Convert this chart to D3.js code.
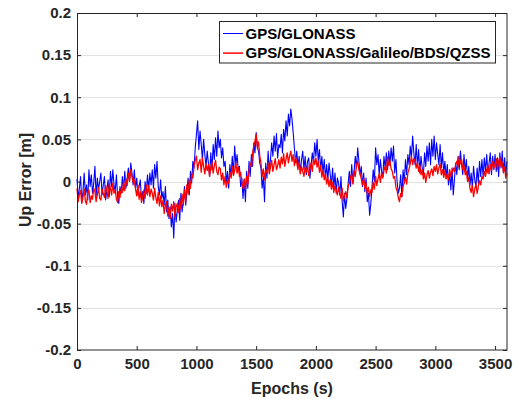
<!DOCTYPE html>
<html>
<head>
<meta charset="utf-8">
<script src="https://cdn.jsdelivr.net/npm/d3@7"></script>
<style>
  body { margin: 0; background: #fff; }
  svg { display: block; font-family: 'Liberation Sans', Arial, sans-serif; font-weight: bold; }
</style>
</head>
<body>
<div id="chart"></div>
<script>
'use strict';

// epochs are sampled every 10 s, values in millimetres
var epochStep = 10;

var seriesNames = ['GPS/GLONASS', 'GPS/GLONASS/Galileo/BDS/QZSS'];
var seriesColors = ['#0000ff', '#ff0000'];

var xTicks = [0, 500, 1000, 1500, 2000, 2500, 3000, 3500];
var yTicks = [-0.2, -0.15, -0.1, -0.05, 0, 0.05, 0.1, 0.15, 0.2];

var gpsGlonassUpMm = [
  3,-20,-8,6,-25,-12,10,-16,-4,-22,
  14,-6,8,-14,-2,18,-18,4,-10,0,
  10,-16,-4,6,-22,-10,2,-18,12,-6,
  14,-4,-12,8,-18,-26,-6,-14,6,-10,
  12,-8,4,16,0,22,10,-4,14,-8,
  4,-16,-6,2,-22,-12,-26,0,-14,8,
  -10,10,-4,14,-8,20,4,24,-6,-16,
  2,-20,-12,-28,-6,-36,-22,-44,-30,-54,
  -38,-67,-26,-48,-34,-22,-46,-14,-36,-24,
  -6,-28,-12,4,-16,12,-2,24,16,40,
  56,72,38,60,44,26,50,32,18,36,
  22,6,34,14,44,26,52,30,60,40,
  50,28,40,18,24,-2,12,-8,20,6,
  30,8,42,20,32,14,18,-6,4,-20,
  2,-24,12,-8,24,6,32,18,46,34,
  58,40,36,22,16,-8,6,-24,22,4,
  36,14,26,46,30,54,36,57,28,44,
  40,56,34,62,48,72,54,80,66,86,
  74,58,40,22,36,18,30,10,26,36,
  14,30,8,24,28,4,20,34,22,46,
  30,50,24,38,14,30,10,26,4,20,
  2,22,8,-4,16,-8,10,-14,4,-2,
  -16,6,-24,-42,-14,-32,-20,-2,12,-6,
  20,-2,12,30,16,40,24,8,18,-6,
  10,-12,4,-24,-14,-40,-26,-6,14,0,
  40,20,32,8,26,12,6,30,16,34,
  14,36,20,40,24,42,10,26,0,-14,
  -8,8,-18,14,-2,26,8,32,20,42,
  28,54,34,20,44,18,38,10,30,16,
  8,34,18,42,24,46,20,50,30,54,
  26,46,32,20,44,16,34,10,24,4,
  20,-4,12,-10,16,-16,2,22,8,30,
  14,36,20,8,32,12,26,2,18,-4,
  10,-8,18,2,-6,16,-2,24,6,26,
  6,28,12,32,10,22,34,8,30,14,
  32,12,28,6,34,16,36,10,28,8,
  24
];

var multiGnssUpMm = [
  -8,-24,-15,-11,-26,-19,-9,-23,-27,-13,
  -10,-25,-17,-21,-8,-12,-24,-16,-7,-20,
  -22,-9,-14,-19,-5,-11,-20,-3,-8,-16,
  -2,-14,-10,-21,-25,-12,-19,-8,-13,0,
  -11,3,-5,10,1,14,6,-1,2,-9,
  -17,-4,-21,-12,-25,-18,-10,-20,-4,-16,
  -5,-18,-9,-14,-22,-8,-19,-26,-13,-29,
  -17,-30,-22,-38,-28,-24,-41,-31,-44,-27,
  -35,-24,-42,-30,-26,-37,-20,-33,-15,-28,
  -10,-24,-4,-15,2,-8,9,4,18,25,
  30,14,22,26,11,28,18,9,21,13,
  20,6,16,23,10,19,25,12,8,17,
  15,2,10,-4,6,-7,1,-2,11,4,
  18,7,13,22,10,17,6,11,-1,-8,
  3,-9,6,-3,12,22,18,34,42,48,
  56,41,47,30,22,6,15,2,14,10,
  22,9,17,25,12,20,27,14,19,26,
  16,29,21,33,18,27,34,22,30,36,
  24,32,19,29,22,14,24,9,18,12,
  6,17,11,19,7,14,22,12,27,20,
  28,17,24,11,19,5,14,2,9,-3,
  5,-6,2,-9,-1,-13,-5,-10,-16,-7,
  -14,-20,-8,-23,-16,-12,-19,-6,-2,5,
  9,-3,13,6,20,24,14,9,3,-4,
  4,-8,-2,-14,-7,-18,-10,-13,-1,-9,
  6,-5,3,9,-1,11,4,13,18,10,
  29,19,24,15,12,4,6,-7,-11,-19,
  -24,-14,-18,-6,-1,5,-3,10,15,21,
  30,20,27,24,16,23,12,19,8,14,
  3,10,-1,8,13,4,11,15,7,18,
  12,20,9,16,21,8,14,5,13,3,
  9,2,14,6,10,16,12,20,24,17,
  30,21,26,14,19,8,12,0,5,-8,
  -13,-5,-18,-9,-3,-14,-6,1,-4,6,
  3,12,6,14,19,9,20,13,24,16,
  21,27,15,24,29,18,23,11,17,4,
  10
];

function upErrorChart() {

  var scope = {};
  var exports = {};

  scope.margins = { left: 77, top: 13, right: 6, bottom: 49 };
  scope.width = 430;
  scope.height = 337;
  scope.ink = '#262626';

  scope.appendSvg = function(div) {
    return d3.select(div).append('svg')
      .attr('width', scope.width + scope.margins.left + scope.margins.right)
      .attr('height', scope.height + scope.margins.top + scope.margins.bottom)
      .style('background', '#fff');
  }

  scope.createScales = function() {
    scope.xScale = d3.scaleLinear().domain([0, 3600]).range([0, scope.width]);
    scope.yScale = d3.scaleLinear().domain([-0.2, 0.2]).range([scope.height, 0]);
  }

  scope.appendGrid = function(chart) {
    var inner = yTicks.filter(function(d) { return d > -0.2 && d < 0.2; });
    chart.append('g')
      .attr('class', 'grid')
      .selectAll('line')
      .data(inner)
      .enter()
      .append('line')
      .attr('x1', 0)
      .attr('x2', scope.width)
      .attr('y1', function(d) { return Math.round(scope.yScale(d)) + 0.5; })
      .attr('y2', function(d) { return Math.round(scope.yScale(d)) + 0.5; })
      .style('stroke', '#e3e3e3')
      .style('stroke-width', 1);
  }

  scope.appendLines = function(chart) {
    var line = d3.line()
      .x(function(d, i) { return scope.xScale(i * epochStep); })
      .y(function(d) { return scope.yScale(d / 1000); });

    var series = [gpsGlonassUpMm, multiGnssUpMm];
    chart.selectAll('.series')
      .data(series)
      .enter()
      .append('path')
      .attr('class', 'series')
      .attr('d', line)
      .style('fill', 'none')
      .style('stroke', function(d, i) { return seriesColors[i]; })
      .style('stroke-width', function(d, i) { return i === 0 ? 1.1 : 1.3; })
      .style('stroke-linejoin', 'round');
  }

  scope.appendAxes = function(chart) {
    var fmt = function(d) { return String(+d.toFixed(2)); };

    var bottom = chart.append('g')
      .attr('transform', 'translate(0,' + scope.height + ')')
      .call(d3.axisBottom(scope.xScale).tickValues(xTicks).tickSizeInner(-4).tickSizeOuter(0).tickPadding(8).tickFormat(d3.format('d')));
    var top = chart.append('g')
      .call(d3.axisTop(scope.xScale).tickValues(xTicks).tickSizeInner(-4).tickSizeOuter(0).tickFormat(''));
    var left = chart.append('g')
      .call(d3.axisLeft(scope.yScale).tickValues(yTicks).tickSizeInner(-4).tickSizeOuter(0).tickPadding(6).tickFormat(fmt));
    var right = chart.append('g')
      .attr('transform', 'translate(' + scope.width + ',0)')
      .call(d3.axisRight(scope.yScale).tickValues(yTicks).tickSizeInner(-4).tickSizeOuter(0).tickFormat(''));

    [bottom, top, left, right].forEach(function(g) {
      g.select('.domain').remove();
      g.selectAll('line').style('stroke', scope.ink);
      g.selectAll('text')
        .style('fill', scope.ink)
        .style('font-size', '15px')
        .style('font-family', "'Liberation Sans', Arial, sans-serif")
        .style('font-weight', 'bold');
    });

    chart.append('rect')
      .attr('x', 0.5)
      .attr('y', 0.5)
      .attr('width', scope.width - 0.5)
      .attr('height', scope.height - 0.5)
      .style('fill', 'none')
      .style('stroke', scope.ink)
      .style('stroke-width', 1);
  }

  scope.appendLabels = function(svg) {
    svg.append('text')
      .attr('x', scope.margins.left + scope.width / 2)
      .attr('y', 394)
      .style('text-anchor', 'middle')
      .style('font-size', '16px')
      .style('fill', scope.ink)
      .text('Epochs (s)');

    svg.append('text')
      .attr('transform', 'translate(31,180) rotate(-90)')
      .style('text-anchor', 'middle')
      .style('font-size', '16px')
      .style('fill', scope.ink)
      .text('Up Error [m]');
  }

  scope.appendLegend = function(chart) {
    var legend = chart.append('g')
      .attr('class', 'legend')
      .attr('transform', 'translate(142.5,8.5)');

    legend.append('rect')
      .attr('width', 276)
      .attr('height', 41.5)
      .style('fill', '#fff')
      .style('stroke', scope.ink)
      .style('stroke-width', 1);

    var items = legend.selectAll('.item')
      .data(seriesNames)
      .enter()
      .append('g')
      .attr('class', 'item')
      .attr('transform', function(d, i) { return 'translate(0,' + (12 + i * 19.6) + ')'; });

    items.append('line')
      .attr('x1', 3.5)
      .attr('x2', 23.5)
      .style('stroke', function(d, i) { return seriesColors[i]; })
      .style('stroke-width', function(d, i) { return i === 0 ? 1 : 1.5; });

    items.append('text')
      .attr('x', 26)
      .attr('dy', '0.35em')
      .style('font-size', '15px')
      .style('fill', '#000')
      .text(function(d) { return d; });
  }

  exports.run = function(div) {
    scope.createScales();
    var svg = scope.appendSvg(div);
    var chart = svg.append('g')
      .attr('transform', 'translate(' + scope.margins.left + ',' + scope.margins.top + ')');
    scope.appendGrid(chart);
    scope.appendLines(chart);
    scope.appendAxes(chart);
    scope.appendLegend(chart);
    scope.appendLabels(svg);
    return svg;
  }

  return exports;
}

upErrorChart().run('#chart');
</script>
</body>
</html>
